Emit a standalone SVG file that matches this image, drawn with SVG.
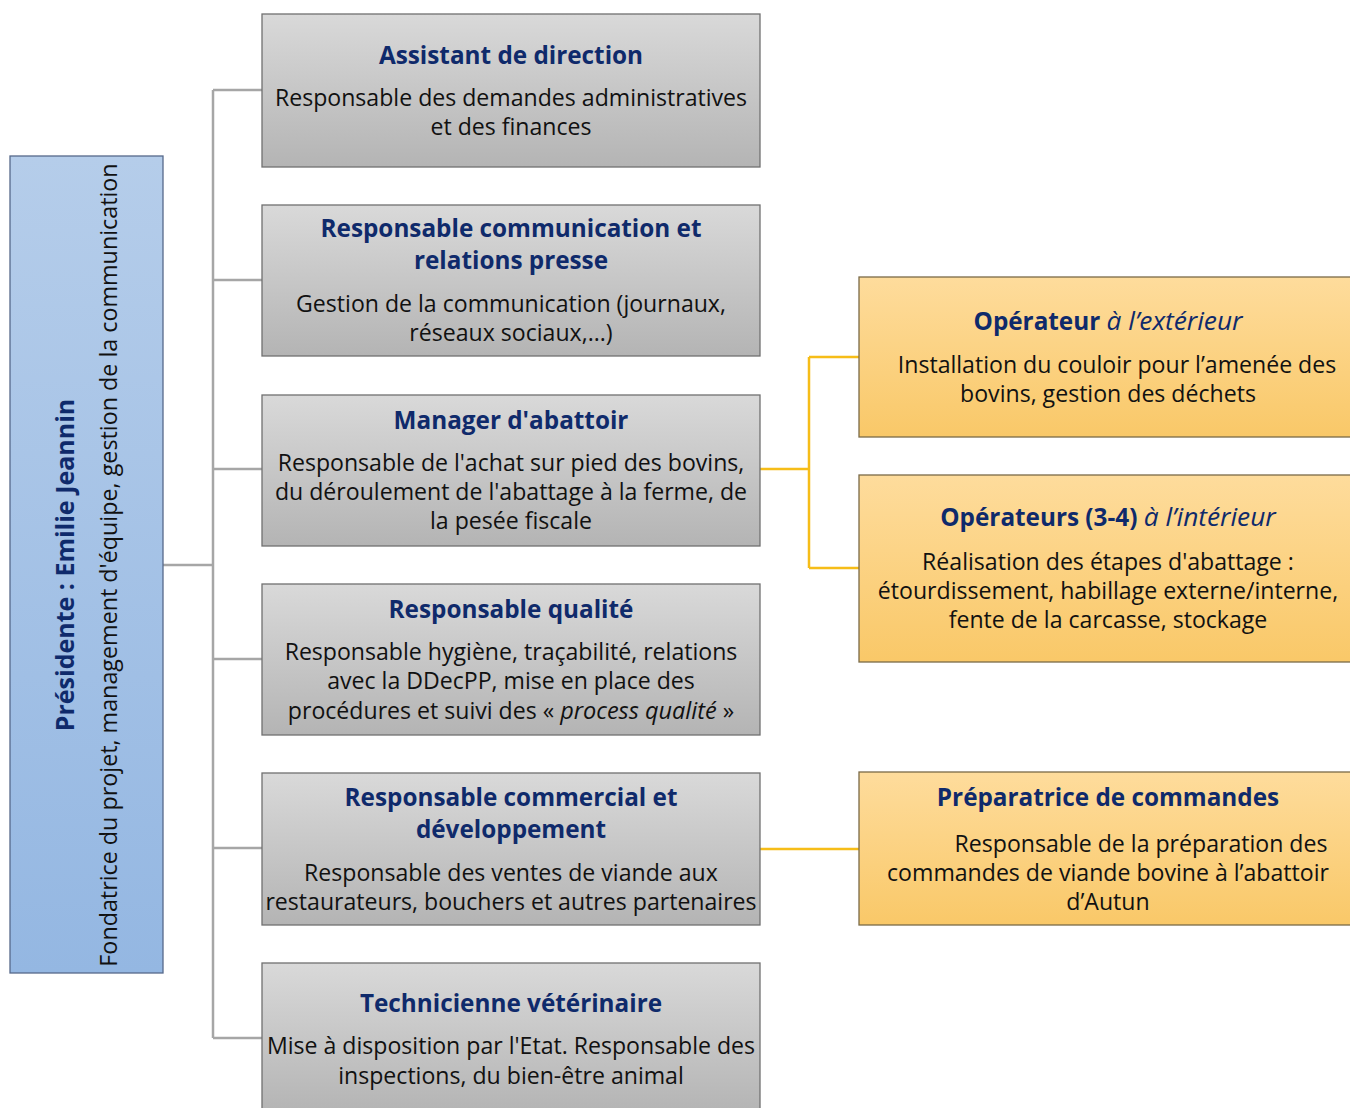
<svg xmlns="http://www.w3.org/2000/svg" width="1350" height="1108" viewBox="0 0 1350 1108">
<defs>
<linearGradient id="gGray" x1="0" y1="0" x2="0" y2="1"><stop offset="0" stop-color="#d9d9d9"/><stop offset="1" stop-color="#b4b4b4"/></linearGradient>
<linearGradient id="gYel" x1="0" y1="0" x2="0" y2="1"><stop offset="0" stop-color="#fedc9c"/><stop offset="1" stop-color="#f9c868"/></linearGradient>
<linearGradient id="gBlue" x1="0" y1="0" x2="0" y2="1"><stop offset="0" stop-color="#b5cdea"/><stop offset="1" stop-color="#94b7e2"/></linearGradient>
</defs>
<style>
.gray{fill:url(#gGray);stroke:#707070;stroke-width:1.3}
.yel{fill:url(#gYel);stroke:#7a6a48;stroke-width:1.3}
.blue{fill:url(#gBlue);stroke:#56698a;stroke-width:1.3}
.t{font-family:"Open Sans","Noto Sans",sans-serif;font-weight:bold;font-size:24.3px;fill:#0f2a6b;text-anchor:middle}
.b{font-family:"Open Sans","Noto Sans",sans-serif;font-size:23.1px;fill:#111;text-anchor:middle}
.r{font-size:23.3px}
.rt{font-size:25px}
.i{font-style:italic;font-weight:normal;font-size:23.5px}
.ti{font-style:italic;font-weight:normal;font-size:26.3px}
.cg{fill:none;stroke:#a6a6a6;stroke-width:2.5}
.cy{fill:none;stroke:#f6bd18;stroke-width:2.5}
</style>
<g id="connectors">
<path class="cg" d="M163 565H213M213 90V1038M213 90H262M213 280H262M213 469H262M213 659H262M213 848H262M213 1038H262"/>
<path class="cy" d="M760 469H809M809 357V568M809 357H859M809 568H859M760 849H859"/>
</g>
<g id="presidente">
<rect class="blue" x="10" y="156" width="153" height="817"/>
<text class="t rt" transform="translate(74,565) rotate(-90)">Présidente : Emilie Jeannin</text>
<text class="b r" transform="translate(117,565) rotate(-90)">Fondatrice du projet, management d'équipe, gestion de la communication</text>
</g>
<g id="assistant">
<rect class="gray" x="262" y="14" width="498" height="153"/>
<text class="t" x="511" y="64">Assistant de direction</text>
<text class="b" x="511" y="106">Responsable des demandes administratives</text>
<text class="b" x="511" y="135">et des finances</text>
</g>
<g id="communication">
<rect class="gray" x="262" y="205" width="498" height="151"/>
<text class="t" x="511" y="237">Responsable communication et</text>
<text class="t" x="511" y="269">relations presse</text>
<text class="b" x="511" y="312">Gestion de la communication (journaux,</text>
<text class="b" x="511" y="341">réseaux sociaux,...)</text>
</g>
<g id="manager">
<rect class="gray" x="262" y="395" width="498" height="151"/>
<text class="t" x="511" y="429">Manager d'abattoir</text>
<text class="b" x="511" y="471">Responsable de l'achat sur pied des bovins,</text>
<text class="b" x="511" y="500">du déroulement de l'abattage à la ferme, de</text>
<text class="b" x="511" y="529">la pesée fiscale</text>
</g>
<g id="qualite">
<rect class="gray" x="262" y="584" width="498" height="151"/>
<text class="t" x="511" y="618">Responsable qualité</text>
<text class="b" x="511" y="660">Responsable hygiène, traçabilité, relations</text>
<text class="b" x="511" y="689">avec la DDecPP, mise en place des</text>
<text class="b" x="511" y="719">procédures et suivi des « <tspan class="i">process qualité</tspan> »</text>
</g>
<g id="commercial">
<rect class="gray" x="262" y="773" width="498" height="152"/>
<text class="t" x="511" y="806">Responsable commercial et</text>
<text class="t" x="511" y="838">développement</text>
<text class="b" x="511" y="881">Responsable des ventes de viande aux</text>
<text class="b" x="511" y="910">restaurateurs, bouchers et autres partenaires</text>
</g>
<g id="veterinaire">
<rect class="gray" x="262" y="963" width="498" height="150"/>
<text class="t" x="511" y="1012">Technicienne vétérinaire</text>
<text class="b" x="511" y="1054">Mise à disposition par l'Etat. Responsable des</text>
<text class="b" x="511" y="1084">inspections, du bien-être animal</text>
</g>
<g id="operateur-ext">
<rect class="yel" x="859" y="277" width="495" height="160"/>
<text class="t" x="1108" y="330">Opérateur <tspan class="ti">à l’extérieur</tspan></text>
<text class="b" x="1117" y="373">Installation du couloir pour l’amenée des</text>
<text class="b" x="1108" y="402">bovins, gestion des déchets</text>
</g>
<g id="operateurs-int">
<rect class="yel" x="859" y="475" width="495" height="187"/>
<text class="t" x="1108" y="526">Opérateurs (3-4) <tspan class="ti">à l’intérieur</tspan></text>
<text class="b" x="1108" y="570">Réalisation des étapes d'abattage :</text>
<text class="b" x="1108" y="599">étourdissement, habillage externe/interne,</text>
<text class="b" x="1108" y="628">fente de la carcasse, stockage</text>
</g>
<g id="preparatrice">
<rect class="yel" x="859" y="772" width="495" height="153"/>
<text class="t" x="1108" y="806">Préparatrice de commandes</text>
<text class="b" x="1141" y="852">Responsable de la préparation des</text>
<text class="b" x="1108" y="881">commandes de viande bovine à l’abattoir</text>
<text class="b" x="1108" y="910">d’Autun</text>
</g>
</svg>
